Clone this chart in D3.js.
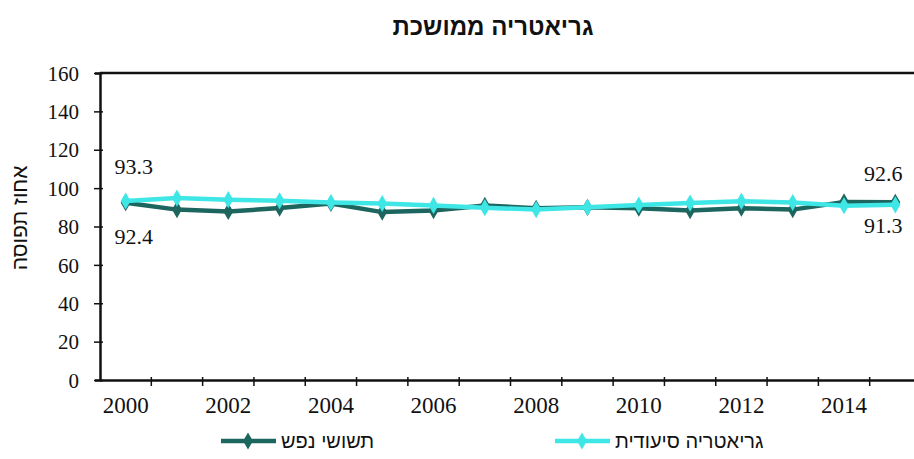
<!DOCTYPE html>
<html lang="he">
<head>
<meta charset="utf-8">
<script src="https://cdn.jsdelivr.net/npm/d3@7"></script>
<style>
  body { margin: 0; background: #fff; }
</style>
</head>
<body>
<div id="chart"></div>
<script>
// datos
const years = [2000, 2001, 2002, 2003, 2004, 2005, 2006, 2007, 2008, 2009, 2010, 2011, 2012, 2013, 2014, 2015];
const tashushei = [92.4, 88.8, 87.8, 89.6, 92.0, 87.5, 88.3, 91.0, 89.5, 90.0, 89.5, 88.3, 89.5, 88.8, 92.8, 92.6];
const siudit = [93.3, 94.8, 94.0, 93.4, 92.5, 92.0, 91.0, 89.8, 88.8, 90.0, 91.2, 92.2, 93.2, 92.5, 90.8, 91.3];
const yTicks = [0, 20, 40, 60, 80, 100, 120, 140, 160];
const seriesNames = ["תשושי נפש", "גריאטריה סיעודית"];
const title = "גריאטריה ממושכת";
const yTitle = "אחוז תפוסה";

const width = 914;
const height = 459;
const margin = { top: 73, right: -7, bottom: 79, left: 100 };
const serif = "'Liberation Serif', 'Times New Roman', serif";
const sans = "'Liberation Sans', Arial, sans-serif";
const colors = ["#1d665f", "#3fe6e6"];

const svg = d3.select("#chart")
  .append("svg")
  .attr("width", width)
  .attr("height", height)
  .style("display", "block");

const x = d3.scaleBand()
  .domain(years)
  .range([margin.left, width - margin.right])
  .padding(0);

const y = d3.scaleLinear()
  .domain([0, 160])
  .range([height - margin.bottom, margin.top]);

// titulo
svg.append("text")
  .attr("x", 493)
  .attr("y", 35)
  .attr("text-anchor", "middle")
  .style("font-family", sans)
  .style("font-weight", "bold")
  .style("font-size", "24px")
  .attr("fill", "#111")
  .text(title);

// borde superior
svg.append("line")
  .attr("x1", margin.left)
  .attr("x2", width)
  .attr("y1", y(160))
  .attr("y2", y(160))
  .attr("stroke", "#111")
  .attr("stroke-width", 2.5);

// eje y
const yAxis = svg.append("g")
  .attr("transform", `translate(${margin.left},0)`)
  .call(d3.axisLeft(y).tickValues(yTicks).tickSizeOuter(0).tickSize(5));
yAxis.select(".domain").attr("stroke", "#111").attr("stroke-width", 2.5);
yAxis.selectAll(".tick line").attr("x2", 3).attr("x1", -6).attr("stroke", "#111").attr("stroke-width", 1.5);
yAxis.selectAll("text")
  .attr("x", -21)
  .attr("dy", "0.34em")
  .attr("fill", "#111")
  .style("font-family", serif)
  .style("font-size", "21px");

// eje x
const xAxis = svg.append("g")
  .attr("transform", `translate(0,${y(0)})`)
  .call(d3.axisBottom(x)
    .tickValues(years.filter((d) => d % 2 === 0))
    .tickSize(0)
    .tickSizeOuter(0));
xAxis.select(".domain").attr("stroke", "#111").attr("stroke-width", 2.5);
xAxis.selectAll("text")
  .attr("y", 17)
  .attr("dy", "0.71em")
  .attr("fill", "#111")
  .style("font-family", serif)
  .style("font-size", "23px");

// marcas entre categorias
svg.append("g")
  .selectAll("line")
  .data(years.slice(1))
  .join("line")
  .attr("x1", (d) => x(d))
  .attr("x2", (d) => x(d))
  .attr("y1", y(0) - 3)
  .attr("y2", y(0) + 6)
  .attr("stroke", "#111")
  .attr("stroke-width", 1.5);

// titulo eje y
svg.append("text")
  .attr("transform", `translate(20,${218}) rotate(-90)`)
  .attr("text-anchor", "middle")
  .attr("dy", "0.35em")
  .style("font-family", sans)
  .style("font-size", "21px")
  .attr("fill", "#111")
  .text(yTitle);

// series
const series = [tashushei, siudit];
const line = d3.line()
  .x((d, i) => x(years[i]) + x.bandwidth() / 2)
  .y((d) => y(d));
const diamond = d3.symbol().type(d3.symbolDiamond).size(85);

series.forEach((values, s) => {
  svg.append("path")
    .datum(values)
    .attr("fill", "none")
    .attr("stroke", colors[s])
    .attr("stroke-width", 4.5)
    .attr("d", line);

  svg.append("g")
    .selectAll("path")
    .data(values)
    .join("path")
    .attr("transform", (d, i) => `translate(${x(years[i]) + x.bandwidth() / 2},${y(d)})`)
    .attr("d", diamond)
    .attr("fill", colors[s]);
});

// etiquetas de valores (primero y ultimo)
const lastIdx = years.length - 1;
const valueLabels = [
  { v: siudit[0], i: 0, dy: -27 },
  { v: tashushei[0], i: 0, dy: 41 },
  { v: tashushei[lastIdx], i: lastIdx, dy: -21 },
  { v: siudit[lastIdx], i: lastIdx, dy: 28 }
];
svg.append("g")
  .selectAll("text")
  .data(valueLabels)
  .join("text")
  .attr("x", (d) => x(years[d.i]) + x.bandwidth() / 2 + (d.i === 0 ? 8 : -12))
  .attr("y", (d) => y(d.v) + d.dy)
  .attr("text-anchor", "middle")
  .attr("fill", "#111")
  .style("font-family", serif)
  .style("font-size", "22px")
  .text((d) => d.v.toFixed(1));

// leyenda
const legendItems = [
  { name: seriesNames[0], color: colors[0], x: 221 },
  { name: seriesNames[1], color: colors[1], x: 555 }
];
const legend = svg.append("g")
  .selectAll("g")
  .data(legendItems)
  .join("g")
  .attr("transform", (d) => `translate(${d.x},441)`);
legend.append("line")
  .attr("x1", 0)
  .attr("x2", 55)
  .attr("stroke", (d) => d.color)
  .attr("stroke-width", 4.5);
legend.append("path")
  .attr("transform", "translate(27,0)")
  .attr("d", diamond)
  .attr("fill", (d) => d.color);
legend.append("text")
  .attr("x", 60)
  .attr("dy", "0.35em")
  .attr("text-anchor", "start")
  .attr("direction", "ltr")
  .style("font-family", sans)
  .style("font-size", "20px")
  .attr("fill", "#111")
  .text((d) => d.name);
</script>
</body>
</html>
